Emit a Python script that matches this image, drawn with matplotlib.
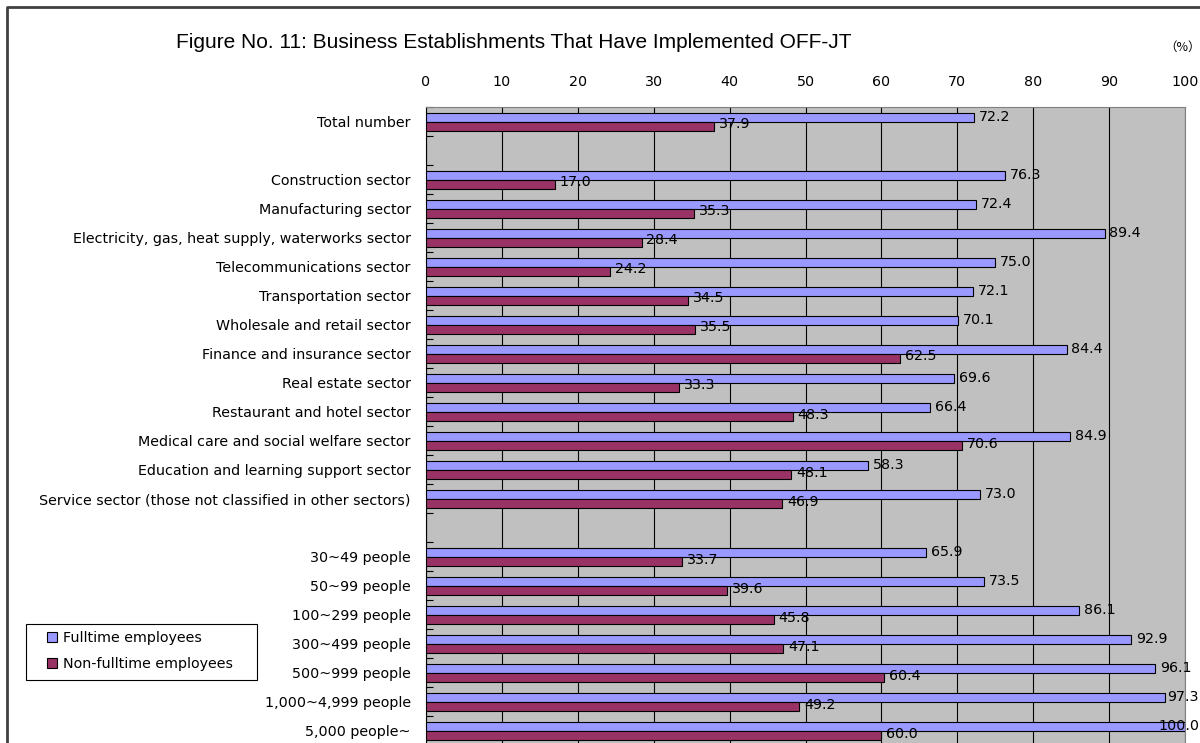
import matplotlib
matplotlib.use("Agg")
import matplotlib.pyplot as plt
import matplotlib.transforms as mtransforms
from matplotlib.lines import Line2D
from matplotlib.patches import Rectangle

plt.rcParams['font.family'] = ['DejaVu Sans']

# rows top to bottom, "" = empty spacer row
categories = ["Total number", "",
              "Construction sector", "Manufacturing sector",
              "Electricity, gas, heat supply, waterworks sector",
              "Telecommunications sector", "Transportation sector",
              "Wholesale and retail sector", "Finance and insurance sector",
              "Real estate sector", "Restaurant and hotel sector",
              "Medical care and social welfare sector",
              "Education and learning support sector",
              "Service sector (those not classified in other sectors)", "",
              "30~49 people", "50~99 people", "100~299 people", "300~499 people",
              "500~999 people", "1,000~4,999 people", "5,000 people~"]
fulltime = [72.2, None, 76.3, 72.4, 89.4, 75.0, 72.1, 70.1, 84.4, 69.6, 66.4, 84.9,
            58.3, 73.0, None, 65.9, 73.5, 86.1, 92.9, 96.1, 97.3, 100.0]
nonfull = [37.9, None, 17.0, 35.3, 28.4, 24.2, 34.5, 35.5, 62.5, 33.3, 48.3, 70.6,
           48.1, 46.9, None, 33.7, 39.6, 45.8, 47.1, 60.4, 49.2, 60.0]
series_names = ['Fulltime employees', 'Non-fulltime employees']
xticks = [0, 10, 20, 30, 40, 50, 60, 70, 80, 90, 100]

blue = '#9999FF'
red = '#993366'
fs = 10.3

fig = plt.figure(figsize=(12, 7.43), dpi=100)
ax = fig.add_axes([426 / 1200, -0.003, (1185 - 426) / 1200, 1 - 107 / 743 + 0.003])
ax.set_facecolor('#C0C0C0')

n = len(categories)
h = 0.31
rows = [i for i in range(n) if fulltime[i] is not None]
ax.barh([i - 0.14 for i in rows], [fulltime[i] for i in rows], height=h,
        color=blue, edgecolor='black', linewidth=0.8, zorder=3)
ax.barh([i + 0.17 for i in rows], [nonfull[i] for i in rows], height=h,
        color=red, edgecolor='black', linewidth=0.8, zorder=3)

# value labels; Excel pushes the ones that would run off the chart back inside
edge = mtransforms.blended_transform_factory(fig.transFigure, ax.transData)
for i in rows:
    for v, dy in ((fulltime[i], -0.17), (nonfull[i], 0.10)):
        if v > 96.5:
            ax.text(1199 / 1200, i + dy, f"{v:.1f}", transform=edge, ha='right',
                    va='center', fontsize=fs, zorder=4, clip_on=False)
        else:
            ax.annotate(f"{v:.1f}", (v, i + dy), xytext=(3.5, 0), textcoords='offset points',
                        ha='left', va='center', fontsize=fs, zorder=4)

ax.set_xlim(0, 100)
ax.set_ylim(n - 0.5, -0.5)
ax.xaxis.tick_top()
ax.set_xticks(xticks)
ax.tick_params(axis='x', length=0, pad=13, labelsize=fs)
ax.grid(axis='x', color='black', linewidth=0.8, zorder=1)
ax.set_yticks(range(n))
ax.set_yticklabels(categories, fontsize=fs)
ax.set_yticks([k + 0.5 for k in range(-1, n)], minor=True)
ax.tick_params(axis='y', which='major', length=0, pad=11)
ax.tick_params(axis='y', which='minor', direction='in', length=5, width=0.8)
for s in ('top', 'right', 'bottom'):
    ax.spines[s].set_color('#808080')
ax.spines['left'].set_color('black')

fig.text(514 / 1200, 1 - 43 / 743, "Figure No. 11: Business Establishments That Have Implemented OFF-JT",
         ha='center', va='center', fontsize=15, family=['Liberation Sans'])
fig.text(1183 / 1200, 1 - 47 / 743, "（%）", ha='center', va='center', fontsize=9,
         family=['Noto Sans CJK JP', 'DejaVu Sans'])

# legend box drawn separately so its padding can match the original
fig.add_artist(Rectangle((26 / 1200, 1 - 680 / 743), (257 - 26) / 1200, 56 / 743,
                         transform=fig.transFigure, facecolor='white', edgecolor='black',
                         linewidth=0.8, zorder=5))
handles = [Line2D([], [], linestyle='none', marker='s', markersize=6.5,
                  markerfacecolor=c, markeredgecolor='black', markeredgewidth=0.8)
           for c in (blue, red)]
leg = fig.legend(handles, series_names, loc='upper left',
                 bbox_to_anchor=(47 / 1200, 1 - 631 / 743), fontsize=fs, frameon=False,
                 handlelength=0.75, handletextpad=0.4, borderpad=0, labelspacing=0.82,
                 borderaxespad=0)
leg.set_zorder(6)

# outer frame of the original slide, partly cut off
fig.add_artist(Line2D([7 / 1200, 7 / 1200, 1.0], [0.0, 1 - 7 / 743, 1 - 7 / 743],
                      transform=fig.transFigure, color='#404040', linewidth=2))

fig.savefig('out.png', dpi=100)
